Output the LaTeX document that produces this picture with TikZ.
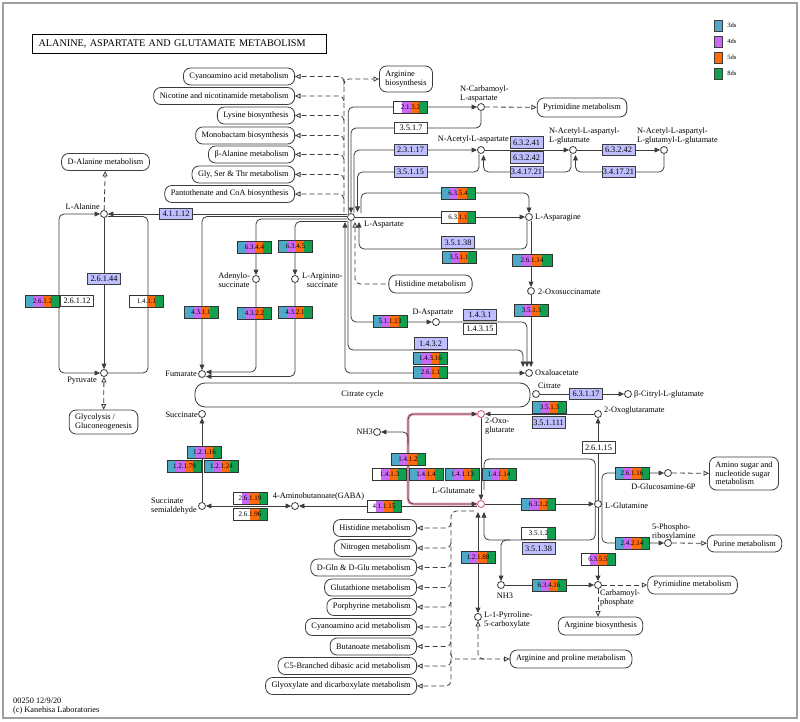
\documentclass[tikz,border=0pt]{standalone}
\usepackage{fontspec}
\setmainfont{Liberation Serif}
\usetikzlibrary{arrows.meta,calc,positioning}

\definecolor{dsthree}{HTML}{4DA9C7}
\definecolor{dsfour}{HTML}{C969F5}
\definecolor{dsfive}{HTML}{FF6A0D}
\definecolor{dseight}{HTML}{12A04E}
\definecolor{kglav}{HTML}{BFBFFF}
\definecolor{kgline}{HTML}{3C3C3C}
\definecolor{kgpink}{HTML}{F4A8C2}
\definecolor{kgred}{HTML}{D94A78}

\newcommand\cpdfont{\fontsize{8.3}{8.6}\selectfont}
\newcommand\ecfont{\fontsize{7}{7}\selectfont}

\tikzset{
  cpd/.style={circle, draw=kgline, line width=0.8pt, fill=white, minimum size=7pt, inner sep=0pt},
  cpdtxt/.style={font=\cpdfont, inner sep=0pt, align=left},
  mapbox/.style={draw=kgline, line width=0.8pt, rounded corners=7pt, fill=white, font=\cpdfont,
    inner xsep=6pt, inner ysep=0pt, minimum height=17pt, align=left},
  lv/.style={draw=kgline, line width=0.8pt, fill=kglav, font=\cpdfont, minimum width=33pt,
    minimum height=11.5pt, inner sep=0pt},
  wt/.style={lv, fill=white},
  ec/.style n args={4}{draw=black!80, line width=0.9pt, minimum width=34pt, minimum height=12pt,
    inner sep=0pt, font=\ecfont,
    path picture={
      \coordinate (pa) at (path picture bounding box.south west);
      \coordinate (pb) at (path picture bounding box.north east);
      \fill[#1] (pa) rectangle ($(pa|-pb)!0.25!(pb)$);
      \fill[#2] ($(pa)!0.25!(pa-|pb)$) rectangle ($(pa|-pb)!0.5!(pb)$);
      \fill[#3] ($(pa)!0.5!(pa-|pb)$) rectangle ($(pa|-pb)!0.75!(pb)$);
      \fill[#4] ($(pa)!0.75!(pa-|pb)$) rectangle (pb);
    }},
  tvog/.style={ec={dsthree}{dsfour}{dsfive}{dseight}},
  wvog/.style={ec={white}{dsfour}{dsfive}{dseight}},
  wwog/.style={ec={white}{white}{dsfive}{dseight}},
  wwwg/.style={ec={white}{white}{white}{dseight}},
  rx/.style={draw=kgline, line width=0.8pt, rounded corners=5pt},
  dl/.style={draw=kgline, line width=0.8pt, dash pattern=on 5pt off 3pt, rounded corners=5pt},
  >={Triangle[length=5.5pt,width=4.8pt]},
  oa/.tip={Triangle[open,length=5.5pt,width=5pt]}
}

\begin{document}
\begin{tikzpicture}[x=1pt, y=-1pt]
  \useasboundingbox (0,0) rectangle (800,722);
  \fill[white] (0,0) rectangle (800,722);
  \draw[gray!75, line width=1.2pt] (3,3) rectangle (797,718);

  % Title and legend
  \node[draw, line width=1.2pt, minimum width=294pt, minimum height=19pt, anchor=north west,
    font=\fontsize{10.2}{11}\selectfont, text width=282pt] (title) at (32,34)
    {ALANINE, ASPARTATE AND GLUTAMATE METABOLISM};
  \foreach \c/\t [count=\i] in {dsthree/3ds, dsfour/4ds, dsfive/5ds, dseight/8ds}
    \node[draw=kgline, fill=\c, minimum width=8pt, minimum height=11pt, inner sep=0pt,
      label={[font=\fontsize{6.5}{7}\selectfont, inner sep=0pt, label distance=5pt]east:\t}]
      (leg\i) at (718,{25.5+16*(\i-1)}) {};

  % Compounds
  \node[cpd] (ala) at (104,214) {};
  \node[cpd] (pyr) at (104,373) {};
  \node[cpd] (asp) at (351,217) {};
  \node[cpd] (ncasp) at (481,107) {};
  \node[cpd] (naa) at (481,150) {};
  \node[cpd] (naag) at (573,150) {};
  \node[cpd] (naagg) at (664,150) {};
  \node[cpd] (asn) at (529,217) {};
  \node[cpd] (oxsa) at (531,291) {};
  \node[cpd] (dasp) at (436,322) {};
  \node[cpd] (oaa) at (529,373) {};
  \node[cpd] (fum) at (202,374) {};
  \node[cpd] (adsucc) at (256,279) {};
  \node[cpd] (argsucc) at (295,279) {};
  \node[cpd] (cit) at (536,394) {};
  \node[cpd] (citglu) at (628,394) {};
  \node[cpd, draw=kgred] (og) at (481,414) {};
  \node[cpd] (ogm) at (598,414) {};
  \node[cpd] (nhthreea) at (377,432) {};
  \node[cpd] (succ) at (202,414) {};
  \node[cpd] (ssa) at (202,506) {};
  \node[cpd] (gaba) at (295,506) {};
  \node[cpd, draw=kgred] (glu) at (481,504) {};
  \node[cpd] (gln) at (598,504) {};
  \node[cpd] (glcn) at (668,473) {};
  \node[cpd] (pra) at (668,543) {};
  \node[cpd] (cbp) at (598,585) {};
  \node[cpd] (nhthreeb) at (501,585) {};
  \node[cpd] (pcx) at (478,617) {};

  % Pathway maps
  \node[mapbox, anchor=east] (mcyan) at (295,76.5) {Cyanoamino acid metabolism};
  \node[mapbox, anchor=east] (mnic) at (295,96) {Nicotine and nicotinamide metabolism};
  \node[mapbox, anchor=east] (mlys) at (295,115.5) {Lysine biosynthesis};
  \node[mapbox, anchor=east] (mmono) at (295,135.5) {Monobactam biosynthesis};
  \node[mapbox, anchor=east] (mbala) at (295,154.5) {β-Alanine metabolism};
  \node[mapbox, anchor=east] (mgly) at (295,174.5) {Gly, Ser \& Thr metabolism};
  \node[mapbox, anchor=east] (mpanto) at (295,194) {Pantothenate and CoA biosynthesis};
  \node[mapbox] (mdala) at (105.5,162) {D-Alanine metabolism};
  \node[mapbox, minimum height=26pt] (margbio) at (406,79) {Arginine\\biosynthesis};
  \node[mapbox, minimum height=19pt] (mpyrim) at (582,107.5) {Pyrimidine metabolism};
  \node[mapbox, minimum height=18pt] (mhis) at (430.5,284) {Histidine metabolism};
  \node[mapbox, minimum height=24pt] (mglyc) at (103.5,422) {Glycolysis /\\Gluconeogenesis};
  \node[mapbox, rounded corners=10pt, minimum width=335pt, minimum height=24pt] (mtca)
    at (362.5,395) {Citrate cycle};
  \node[mapbox, minimum height=33pt] (mamino) at (744,473.5) {Amino sugar and\\nucleotide sugar\\metabolism};
  \node[mapbox] (mpurine) at (744.5,543.5) {Purine metabolism};
  \node[mapbox, minimum height=18pt] (mpyrimb) at (692.5,585) {Pyrimidine metabolism};
  \node[mapbox, minimum height=18pt] (margbiob) at (600.5,626) {Arginine biosynthesis};
  \node[mapbox, minimum height=18pt] (margpro) at (571,659) {Arginine and proline metabolism};
  \node[mapbox, anchor=east] (mhisb) at (417,528) {Histidine metabolism};
  \node[mapbox, anchor=east] (mnit) at (417,548) {Nitrogen metabolism};
  \node[mapbox, anchor=east] (mdgln) at (417,567.5) {D-Gln \& D-Glu metabolism};
  \node[mapbox, anchor=east] (mgsh) at (417,587.5) {Glutathione metabolism};
  \node[mapbox, anchor=east] (mpor) at (417,607) {Porphyrine metabolism};
  \node[mapbox, anchor=east] (mcyanb) at (417,627) {Cyanoamino acid metabolism};
  \node[mapbox, anchor=east] (mbut) at (417,646.5) {Butanoate metabolism};
  \node[mapbox, anchor=east] (mcfive) at (417,666) {C5-Branched dibasic acid metabolism};
  \node[mapbox, anchor=east] (mglyox) at (417,686) {Glyoxylate and dicarboxylate metabolism};

  % Dashed map links
  \coordinate (uptrunk) at (344,84);
  \draw[dl,-{oa}] (344,212) -- (uptrunk) |- (margbio);
  \foreach \n in {mcyan,mnic,mlys,mmono,mbala,mgly,mpanto}
    \draw[dl,-{oa}] ($(\n.east -| uptrunk)+(0,-5pt)$) |- (\n.east);
  \draw[dl,-{oa}] (474,511) -| ($(mglyox.east)+(34pt,0)$) -- (mglyox.east);
  \foreach \n in {mhisb,mnit,mdgln,mgsh,mpor,mcyanb,mbut,mcfive}
    \draw[dl,-{oa}] ($(\n.east)+(34pt,5pt)$) |- (\n.east);
  \draw[dl,-{oa}] ($(margpro.west)+(-59pt,6pt)$) |- (margpro.west);
  \draw[dl,{oa}-] (pcx) |- ($(margpro.west)+(-22pt,0)$);
  \draw[dl,-{oa}] (ncasp) -- (mpyrim);
  \draw[dl,-{oa}] (ala) -- (mdala);
  \draw[dl,{oa}-{oa}] (pyr) -- (mglyc);
  \draw[dl,{oa}-] (355,222) |- (mhis);
  \draw[dl,-{oa}] (glcn) -- (mamino);
  \draw[dl,-{oa}] (pra) -- (mpurine);
  \draw[dl,-{oa}] (cbp) -- (mpyrimb);
  \draw[dl,-{oa}] (cbp) -- (cbp |- margbiob.north);

  % Alanine
  \draw[rx,<->] (ala) -| (59,373) -- (pyr);
  \draw[rx] ([yshift=-2.5pt]ala.east) -| (148,373) -- (pyr);
  \draw[rx,->] (ala) -- (pyr);
  \draw[rx,->] (asp.west |- ala) -- (ala);

  % Aspartate to fumarate
  \draw[rx,->] ([yshift=0.5pt]asp.west) -| (fum);
  \draw[rx,->] ([yshift=-2pt]asp.west) -| (adsucc);
  \draw[rx,->] ([yshift=-4.5pt]asp.west) -| (argsucc);
  \draw[rx,->] (adsucc) |- ([yshift=2pt]fum.east);
  \draw[rx,->] (argsucc) |- ([yshift=-2.5pt]fum.east);

  % Aspartate upwards
  \draw[rx,->] (asp.north west) |- (ncasp);
  \draw[rx,->] (ncasp) |- (351,128) -- (asp);
  \draw[rx,->] ([xshift=3pt]asp.north) |- (naa);
  \draw[rx,->] ([xshift=-2pt]naa.south) |- (357.5,172) -- (357.5,212);
  \draw[rx,->] (naa) -- (naag);
  \draw[rx,->] (naag) -- (naagg);
  \draw[rx,->] ([xshift=-2pt]naag.south) |- (483.5,172) -- (483.5,155);
  \draw[rx,->] (naagg) |- (575.5,172) -- (575.5,155);

  % Asparagine and oxaloacetate
  \draw[rx,->] ([xshift=10pt]asp.north) |- (529,193) -- (asn);
  \draw[rx,->] (asp) -- (asn);
  \draw[rx,->] ([xshift=-2pt]asn.south) |- (359,249) -- (359,222);
  \draw[rx,->] (asn.south -| oxsa) -- (oxsa);
  \draw[rx,->] (oxsa) -- (531,367);
  \draw[rx,->] (asp.south) |- (dasp);
  \draw[rx,->] (dasp) -| (527,367);
  \draw[rx,->] ([xshift=-3pt]asp.south) |- (523,350) -- (523,367);
  \draw[rx,<->] (345,222) |- (oaa);
  \draw[rx,->] (cit) -- (citglu);

  % Glutamate
  \draw[rx,->] (ogm) -- (og);
  \draw[rx,->] (gln) -- (ogm);
  \draw[kgpink, line width=3pt, rounded corners=5pt] (glu.west) -| (408,414) -- (og.west);
  \draw[rx,<->] (glu) -| (408,414) -- (og);
  \draw[rx,->] (408,444) |- (nhthreea);
  \draw[rx,->] (og) -- (glu);
  \draw[rx] (gln.north west) |- (484,459) -- (484,490);
  \draw[rx,->] (gln.south west) |- (484,540) -- (484,512);
  \draw[rx,->] (510,540) -| (nhthreeb);
  \draw[rx,<->] (478,512) -- (pcx);
  \draw[rx,->] (glu) -- (gln);
  \draw[rx,->] ([yshift=-2pt]glu.west) -- (gaba);
  \draw[rx,<->] (gaba) -- (ssa);
  \draw[rx,->] (ssa) -- (succ);
  \draw[rx,->] (gln.east) |- (glcn);
  \draw[rx,->] (gln.east) |- (pra);
  \draw[rx,->] (gln) -- (cbp);
  \draw[rx,->] (nhthreeb) -- (cbp);

  % Enzymes
  \node[lv] (e41112) at (176,214) {4.1.1.12};
  \node[lv] (e26144) at (104,279) {2.6.1.44};
  \node[tvog] (e2612) at (42.5,301) {2.6.1.2};
  \node[wt] (e26112) at (77,301) {2.6.1.12};
  \node[wwog] (e1411) at (146.5,301) {1.4.1.1};
  \node[wvog] (e2132) at (410.5,107) {2.1.3.2};
  \node[wt] (e3517) at (411,128) {3.5.1.7};
  \node[lv] (e23117) at (410.5,150) {2.3.1.17};
  \node[lv] (e35115) at (410.5,172) {3.5.1.15};
  \node[lv] (e63241) at (526.5,142.5) {6.3.2.41};
  \node[lv] (e63242) at (526.5,157.5) {6.3.2.42};
  \node[lv] (e341721) at (526.5,172) {3.4.17.21};
  \node[lv] (e63242b) at (618.5,150) {6.3.2.42};
  \node[lv] (e341721b) at (618.5,172) {3.4.17.21};
  \node[tvog] (e6354) at (458,193.5) {6.3.5.4};
  \node[wwog] (e6311) at (458,217.5) {6.3.1.1};
  \node[lv] (e35138) at (458,242.5) {3.5.1.38};
  \node[tvog] (e3511) at (459,257.5) {3.5.1.1};
  \node[tvog, minimum width=40pt] (e26114) at (532,260.5) {2.6.1.14};
  \node[tvog] (e3513) at (531.5,310.5) {3.5.1.3};
  \node[tvog] (e51113) at (390,321.5) {5.1.1.13};
  \node[lv] (e1431) at (480,315) {1.4.3.1};
  \node[wt] (e14315) at (480,329) {1.4.3.15};
  \node[lv] (e1432) at (430.5,343.5) {1.4.3.2};
  \node[tvog] (e14316) at (430.5,358) {1.4.3.16};
  \node[tvog] (e2611) at (430.5,372) {2.6.1.1};
  \node[tvog] (e4311) at (201,312) {4.3.1.1};
  \node[tvog] (e6344) at (254.5,247) {6.3.4.4};
  \node[tvog] (e4322) at (254.5,313) {4.3.2.2};
  \node[tvog] (e6345) at (295.5,246.5) {6.3.4.5};
  \node[tvog] (e4321) at (295,312.5) {4.3.2.1};
  \node[lv] (e63117) at (586,394) {6.3.1.17};
  \node[tvog] (e3513b) at (549.5,407) {3.5.1.3};
  \node[lv] (e351111) at (548.5,422.5) {3.5.1.111};
  \node[wt] (e26115) at (598.5,447.5) {2.6.1.15};
  \node[tvog] (e12116) at (204.5,452.5) {1.2.1.16};
  \node[tvog] (e12179) at (184.5,466.5) {1.2.1.79};
  \node[tvog] (e12124) at (221.5,466.5) {1.2.1.24};
  \node[wvog] (e26119) at (250,498) {2.6.1.19};
  \node[wwog] (e26196) at (250,514.5) {2.6.1.96};
  \node[tvog] (e1412) at (408,459.5) {1.4.1.2};
  \node[wvog] (e1413) at (389.5,474.5) {1.4.1.3};
  \node[tvog] (e1414) at (426,474.5) {1.4.1.4};
  \node[tvog] (e14113) at (462.5,474.5) {1.4.1.13};
  \node[tvog] (e14114) at (499,474.5) {1.4.1.14};
  \node[wvog] (e41115) at (384,506) {4.1.1.15};
  \node[tvog] (e6312) at (538.5,504) {6.3.1.2};
  \node[wwwg] (e3512) at (538.5,533.5) {3.5.1.2};
  \node[lv] (e35138b) at (538.5,548.5) {3.5.1.38};
  \node[tvog] (e12188) at (478,557.5) {1.2.1.88};
  \node[tvog] (e26116) at (632,473) {2.6.1.16};
  \node[tvog] (e24214) at (632,543) {2.4.2.14};
  \node[wvog] (e6355) at (598,559.5) {6.3.5.5};
  \node[tvog] (e63416) at (549,585) {6.3.4.16};

  % Compound names
  \node[cpdtxt, anchor=east] (tala) at (100,207) {L-Alanine};
  \node[cpdtxt, anchor=east] (tpyr) at (97,381) {Pyruvate};
  \node[cpdtxt, anchor=west] (tasp) at (364,225) {L-Aspartate};
  \node[cpdtxt, anchor=west] (tncasp) at (460,94) {N-Carbamoyl-\\L-aspartate};
  \node[cpdtxt, anchor=east] (tnaa) at (509,140) {N-Acetyl-L-aspartate};
  \node[cpdtxt, anchor=west] (tnaag) at (549,136) {N-Acetyl-L-aspartyl-\\L-glutamate};
  \node[cpdtxt, anchor=west] (tnaagg) at (637,136) {N-Acetyl-L-aspartyl-\\L-glutamyl-L-glutamate};
  \node[cpdtxt, anchor=west] (tasn) at (535,218) {L-Asparagine};
  \node[cpdtxt, anchor=west] (toxsa) at (538,292) {2-Oxosuccinamate};
  \node[cpdtxt] (tdasp) at (433,313) {D-Aspartate};
  \node[cpdtxt, anchor=west] (toaa) at (535,373) {Oxaloacetate};
  \node[cpdtxt, anchor=east] (tfum) at (197,374) {Fumarate};
  \node[cpdtxt, anchor=east, align=center] (tadsucc) at (250,280) {Adenylo-\\succinate};
  \node[cpdtxt, anchor=west, align=center] (targsucc) at (302,280) {L-Arginino-\\succinate};
  \node[cpdtxt, anchor=west] (tcit) at (538,386) {Citrate};
  \node[cpdtxt, anchor=west] (tcitglu) at (634,394) {β-Citryl-L-glutamate};
  \node[cpdtxt, anchor=west] (togm) at (604,411) {2-Oxoglutaramate};
  \node[cpdtxt, anchor=north west] (tog) at (485,418) {2-Oxo-\\glutarate};
  \node[cpdtxt, anchor=east] (tnhthreea) at (373,432) {NH3};
  \node[cpdtxt, anchor=east] (tsucc) at (198,415) {Succinate};
  \node[cpdtxt, anchor=east] (tssa) at (197,506) {Succinate\\semialdehyde};
  \node[cpdtxt] (tgaba) at (318.5,496) {4-Aminobutanoate(GABA)};
  \node[cpdtxt, anchor=east] (tglu) at (475,491) {L-Glutamate};
  \node[cpdtxt, anchor=west] (tgln) at (605,506) {L-Glutamine};
  \node[cpdtxt] (tglcn) at (663.5,487) {D-Glucosamine-6P};
  \node[cpdtxt, anchor=west] (tpra) at (652,532) {5-Phospho-\\ribosylamine};
  \node[cpdtxt, anchor=north west] (tcbp) at (600,590) {Carbamoyl-\\phosphate};
  \node[cpdtxt] (tnhthreeb) at (505,596) {NH3};
  \node[cpdtxt, anchor=west] (tpcx) at (484,620) {L-1-Pyrroline-\\5-carboxylate};

  % Footer
  \node[cpdtxt, anchor=north west] (footer) at (13,698) {00250 12/9/20\\(c) Kanehisa Laboratories};
\end{tikzpicture}
\end{document}
